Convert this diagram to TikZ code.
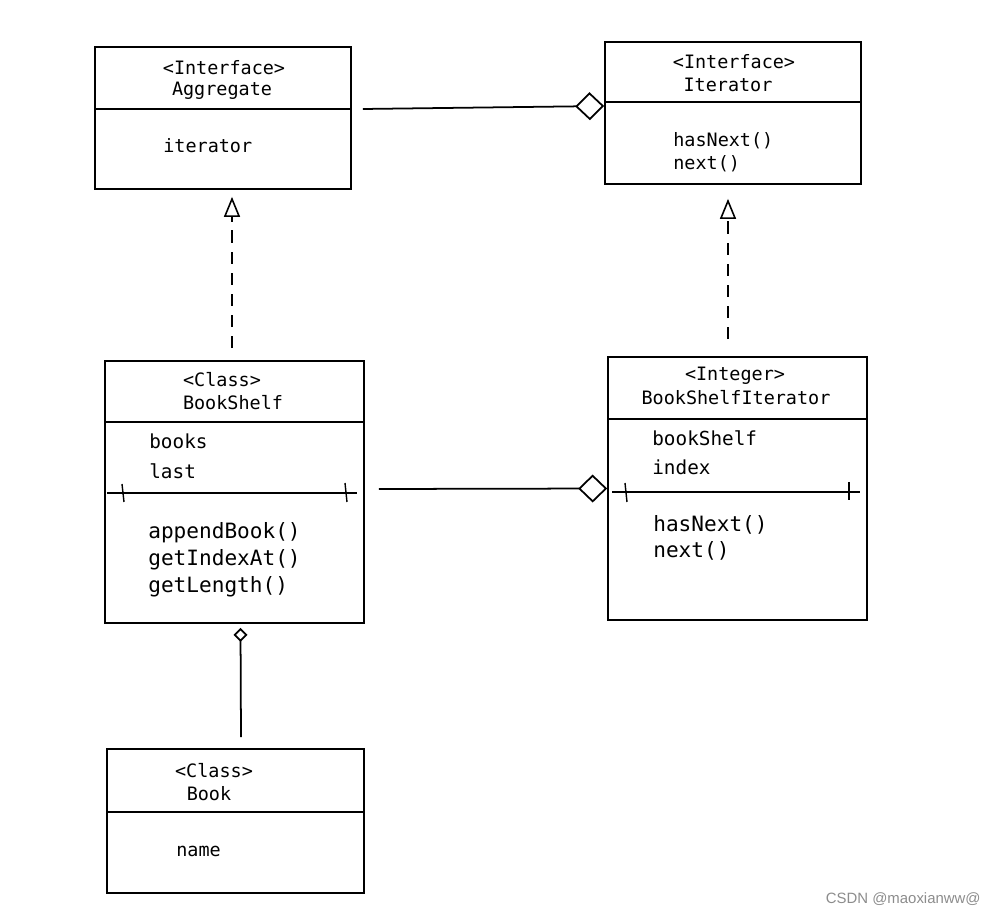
\documentclass[tikz,border=0pt]{standalone}
\usepackage{fontspec}
\setmonofont{DejaVu Sans Mono}
\setsansfont{Liberation Sans}
\usetikzlibrary{arrows.meta}

\tikzset{
	umlbox/.style={draw, line width=1pt, inner sep=0pt},
	hdr/.style={font=\ttfamily\fontsize{10.5}{12}\selectfont, inner sep=0pt},
	attr/.style={font=\ttfamily\fontsize{11}{13}\selectfont, anchor=west, inner sep=0pt},
	meth/.style={font=\ttfamily\fontsize{12}{14}\selectfont, anchor=west, inner sep=0pt},
	attrsm/.style={attr, font=\ttfamily\fontsize{10.5}{12}\selectfont},
	divider/.style={line width=1.2pt},
	aggline/.style={line width=1pt, -{Diamond[open, length=5.8mm, width=5.6mm, line width=1pt]}},
	aggsmall/.style={line width=1pt, -{Diamond[open, length=2.8mm, width=2.8mm, line width=1pt]}},
	realize/.style={line width=0.9pt, dash pattern=on 7pt off 5pt, -{Triangle[open, length=4mm, width=3.2mm, line width=0.9pt]}}
}

\begin{document}
\begin{tikzpicture}[x=0.02cm, y=-0.02cm]
		%%%%% START %%%%%
		\useasboundingbox (0,0) rectangle (995,915);
		
		% Aggregate
		\node[umlbox, minimum width=5.12cm, minimum height=2.84cm] (aggregate) at (223,118) {};
		\draw[divider] (95,109) -- (351,109);
		\node[hdr] (aggStereo) at (224,68) {<Interface>};
		\node[hdr] (aggName) at (222,91) {Aggregate};
		\node[attrsm] (aggIterator) at (163,146) {iterator};
		
		% Iterator
		\node[umlbox, minimum width=5.12cm, minimum height=2.84cm] (iterator) at (733,113) {};
		\draw[divider] (605,102) -- (861,102);
		\node[hdr] (itStereo) at (734,62) {<Interface>};
		\node[hdr] (itName) at (728,85) {Iterator};
		\node[attrsm] (itHasNext) at (673,141) {hasNext()};
		\node[attrsm] (itNext) at (673,164) {next()};
		
		% BookShelf
		\node[umlbox, minimum width=5.18cm, minimum height=5.24cm] (bookshelf) at (234.5,492) {};
		\draw[divider] (105,422) -- (364,422);
		\node[hdr] (bsStereo) at (222,380) {<Class>};
		\node[hdr] (bsName) at (233,403) {BookShelf};
		\node[attr] (bsBooks) at (149,441) {books};
		\node[attr] (bsLast) at (149,471) {last};
		\draw[line width=0.9pt] (107,493) -- (357,493);
		\draw[line width=0.8pt] (122,484) -- (124,502);
		\draw[line width=0.8pt] (345,483) -- (347,502);
		\node[meth] (bsAppend) at (148,533) {appendBook()};
		\node[meth] (bsIndexAt) at (148,560) {getIndexAt()};
		\node[meth] (bsLength) at (148,587) {getLength()};
		
		% BookShelfIterator
		\node[umlbox, minimum width=5.18cm, minimum height=5.26cm] (bsiterator) at (737.5,488.5) {};
		\draw[divider] (608,419) -- (867,419);
		\node[hdr] (bsiStereo) at (735,376) {<Integer>};
		\node[hdr] (bsiName) at (736,398) {BookShelfIterator};
		\node[attr] (bsiShelf) at (652,438) {bookShelf};
		\node[attr] (bsiIndex) at (652,467) {index};
		\draw[line width=0.9pt] (612,492) -- (860,492);
		\draw[line width=0.8pt] (625,483) -- (627,502);
		\draw[line width=0.8pt] (849,482) -- (849,500);
		\node[meth] (bsiHasNext) at (653,525) {hasNext()};
		\node[meth] (bsiNext) at (653,551) {next()};
		
		% Book
		\node[umlbox, minimum width=5.14cm, minimum height=2.88cm] (book) at (235.5,821) {};
		\draw[divider] (107,812) -- (364,812);
		\node[hdr] (bkStereo) at (214,771) {<Class>};
		\node[hdr] (bkName) at (209,794) {Book};
		\node[attrsm] (bkAttr) at (176,851) {name};
		
		% relations
		\draw[aggline] ([shift={(11,-9)}]aggregate.east) -- ([shift={(0,-7)}]iterator.west);
		\draw[aggline] ([shift={(14,-3)}]bookshelf.east) -- (bsiterator.west);
		\draw[aggsmall] ([shift={(5.5,-11)}]book.north) -- ([shift={(6,4)}]bookshelf.south);
		\draw[realize] ([shift={(-2.5,-12)}]bookshelf.north) -- ([shift={(9,7)}]aggregate.south);
		\draw[realize] ([shift={(-9.5,-17)}]bsiterator.north) -- ([shift={(-5,14)}]iterator.south);
		
		\node[font=\sffamily\fontsize{8.5}{10}\selectfont, text=black!45, anchor=east, inner sep=0pt] (mark) at (981,899) {CSDN @maoxianww@};
		%%%%% END %%%%%
\end{tikzpicture}
\end{document}
